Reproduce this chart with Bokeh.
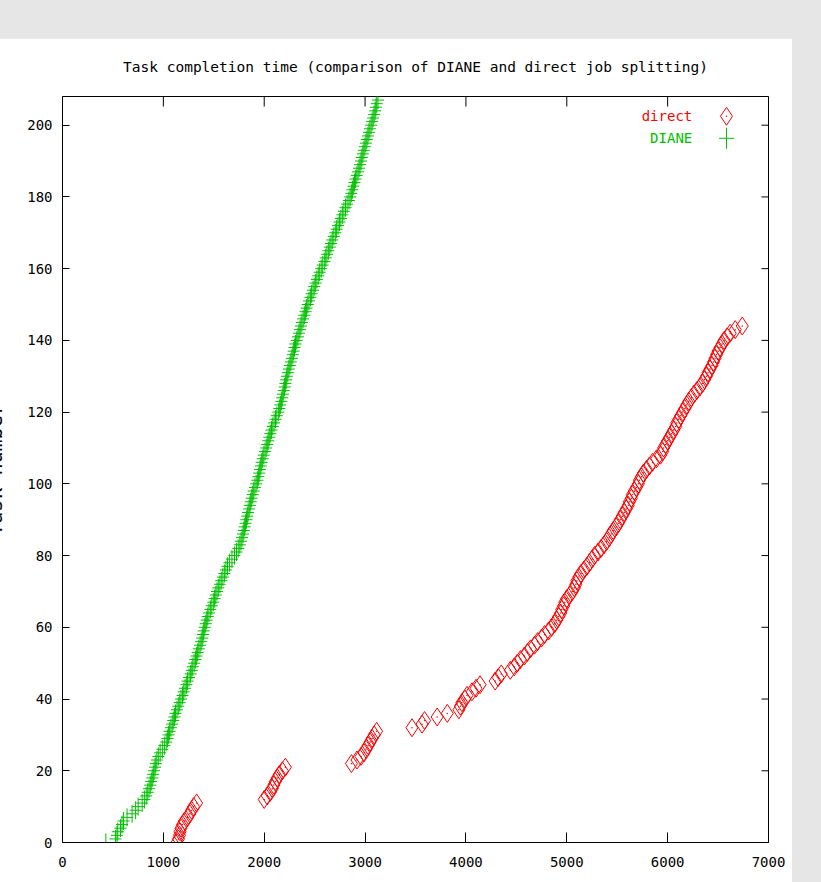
import math
from bokeh.plotting import figure
from bokeh.models import FixedTicker, Label, Range1d, Spacer
from bokeh.layouts import column
from bokeh.embed import file_html
from bokeh.resources import INLINE

# ---------------- data ----------------
title_text = "Task completion time (comparison of DIANE and direct job splitting)"
y_label = "Task number"
series_names = ["direct", "DIANE"]
x_ticks = [0, 1000, 2000, 3000, 4000, 5000, 6000, 7000]
y_ticks = [0, 20, 40, 60, 80, 100, 120, 140, 160, 180, 200]
x_limits = [0, 7000]
y_limits = [0, 208]

# DIANE: completion time (s) of task number 0, 1, 2, ...
diane_time = [
    430, 525, 540, 548, 575, 590, 605, 640, 690, 725,
    750, 790, 812, 830, 845, 858, 870, 880, 890, 900,
    908, 918, 926, 936, 950, 968, 990, 1010, 1028, 1040,
    1052, 1062, 1075, 1088, 1098, 1110, 1120, 1135, 1148, 1162,
    1175, 1190, 1202, 1215, 1228, 1240, 1255, 1270, 1282, 1292,
    1305, 1318, 1330, 1340, 1352, 1364, 1375, 1385, 1393, 1400,
    1410, 1420, 1430, 1440, 1452, 1466, 1480, 1495, 1508, 1520,
    1532, 1545, 1560, 1574, 1590, 1605, 1620, 1636, 1655, 1680,
    1705, 1725, 1742, 1758, 1770, 1780, 1790, 1798, 1806, 1815,
    1824, 1832, 1840, 1850, 1858, 1866, 1876, 1886, 1896, 1908,
    1920, 1932, 1942, 1950, 1958, 1966, 1975, 1985, 1996, 2008,
    2020, 2030, 2040, 2050, 2060, 2072, 2085, 2098, 2112, 2125,
    2140, 2150, 2160, 2170, 2178, 2186, 2194, 2202, 2210, 2218,
    2225, 2234, 2244, 2254, 2264, 2274, 2284, 2292, 2300, 2310,
    2322, 2334, 2344, 2354, 2364, 2374, 2386, 2398, 2410, 2420,
    2432, 2444, 2458, 2470, 2484, 2496, 2510, 2522, 2536, 2550,
    2565, 2580, 2596, 2610, 2622, 2636, 2650, 2662, 2675, 2690,
    2705, 2718, 2732, 2746, 2760, 2775, 2790, 2806, 2822, 2840,
    2852, 2864, 2874, 2884, 2895, 2906, 2918, 2930, 2940, 2950,
    2960, 2968, 2978, 2988, 2998, 3008, 3018, 3028, 3038, 3048,
    3060, 3070, 3080, 3090, 3100, 3108, 3116, 3128,
]
diane_task = list(range(len(diane_time)))

# direct job splitting: completion time (s) of task number 0, 1, 2, ...
direct_time = [
    1135, 1150, 1160, 1165, 1175, 1190, 1210, 1240, 1262, 1280, 1300, 1330,
    2000, 2030, 2060, 2080, 2095, 2110, 2130, 2150, 2180, 2210,
    2865, 2920, 2960, 2990, 3010, 3030, 3050, 3070, 3090, 3115,
    3465, 3565, 3590, 3715, 3815, 3930, 3945, 3960, 3990, 4010, 4060, 4100, 4140,
    4290, 4320, 4350, 4440, 4480, 4510, 4540, 4580, 4610, 4640, 4680, 4710, 4750, 4780, 4820,
    4850, 4880, 4900, 4920, 4940, 4950, 4970, 4980, 5000, 5030,
    5055, 5075, 5090, 5100, 5120, 5140, 5170, 5200, 5225, 5250,
    5275, 5310, 5340, 5370, 5395, 5420, 5440, 5460, 5490, 5510,
    5530, 5550, 5570, 5590, 5610, 5620, 5640, 5650, 5670, 5690,
    5710, 5720, 5740, 5760, 5790, 5820, 5850, 5890, 5930, 5950,
    5960, 5980, 6000, 6020, 6040, 6060, 6080, 6090, 6110, 6130,
    6150, 6170, 6190, 6210, 6235,
    6260, 6290, 6320, 6345, 6365, 6385, 6400, 6420, 6440, 6455,
    6470, 6485, 6500, 6520, 6540, 6560, 6590, 6620, 6670, 6740,
]
direct_task = list(range(len(direct_time)))

# ---------------- style ----------------
FONT = "DejaVu Sans Mono"
GREEN = "#00c000"
RED = "#ff0000"
BG = "#e6e6e6"

SHIFT = 29                            # figure starts left of the window edge
FRAME_W, FRAME_H = 706, 746           # plot frame size in pixels
X_TICK_PX, Y_TICK_PX = 10, 7          # inward tick lengths in pixels

p = figure(width=792 + SHIFT, height=844,
           x_range=Range1d(*x_limits), y_range=Range1d(*y_limits),
           output_backend="svg", toolbar_location=None,
           min_border_left=62 + SHIFT, min_border_right=24, min_border_top=58,
           min_border_bottom=40,
           border_fill_color="white", background_fill_color="white",
           outline_line_color="black", outline_line_width=1,
           styles={"margin-left": f"-{SHIFT}px"})
p.grid.visible = False

p.title.text = title_text
p.title.align = "center"
p.title.vertical_align = "top"
p.title.standoff = 40
p.title.text_font = FONT
p.title.text_font_size = "14.5px"
p.title.text_font_style = "normal"
p.title.text_color = "black"

def style_axis(ax, ticks, tick_len, standoff):
    ax.ticker = FixedTicker(ticks=ticks)
    ax.major_tick_in = tick_len
    ax.major_tick_out = 0
    ax.minor_tick_in = 0
    ax.minor_tick_out = 0
    ax.axis_line_color = "black"
    ax.axis_line_width = 1
    ax.major_tick_line_color = "black"
    ax.major_tick_line_width = 1
    ax.major_label_text_font = FONT
    ax.major_label_text_font_size = "14px"
    ax.major_label_text_color = "black"
    ax.major_label_standoff = standoff

style_axis(p.xaxis[0], x_ticks, X_TICK_PX, 14)
style_axis(p.yaxis[0], y_ticks, Y_TICK_PX, 10)
# y axis label: mostly cut off by the window edge, as in the original
p.yaxis[0].axis_label = y_label
p.yaxis[0].axis_label_text_font = FONT
p.yaxis[0].axis_label_text_font_size = "20px"
p.yaxis[0].axis_label_text_font_style = "normal"
p.yaxis[0].axis_label_text_color = "black"
p.yaxis[0].axis_label_standoff = 17

# mirrored inward ticks on the top and right frame edges (gnuplot style)
x_span = x_limits[1] - x_limits[0]
y_span = y_limits[1] - y_limits[0]
top_y1 = [y_limits[1] - X_TICK_PX * y_span / FRAME_H for _ in x_ticks]
p.segment(x0=x_ticks, y0=[y_limits[1]] * len(x_ticks), x1=x_ticks, y1=top_y1,
          line_color="black", line_width=1)
right_x1 = [x_limits[1] - Y_TICK_PX * x_span / FRAME_W for _ in y_ticks]
p.segment(x0=[x_limits[1]] * len(y_ticks), y0=y_ticks, x1=right_x1, y1=y_ticks,
          line_color="black", line_width=1)

# direct: diamonds with a small centre dot
p.scatter(x=direct_time, y=direct_task, marker="diamond", size=18,
          fill_color=None, line_color=RED, line_width=1)
p.scatter(x=direct_time, y=direct_task, marker="dot", size=6,
          line_color=RED, fill_color=RED)
# DIANE: plus signs (narrower than tall, as in the original)
p.scatter(x=diane_time, y=diane_task, marker="dash", size=12,
          line_color=GREEN, line_width=1)
p.scatter(x=diane_time, y=diane_task, marker="dash", size=18, angle=math.pi / 2,
          line_color=GREEN, line_width=1)

# key (gnuplot style: text, then symbol), placed relative to the top-right corner
key_sym_x = x_limits[1] - 0.0595 * x_span
key_txt_x = x_limits[1] - 0.108 * x_span
key_y = [y_limits[1] - 0.0265 * y_span, y_limits[1] - 0.056 * y_span]
p.scatter(x=[key_sym_x], y=[key_y[0]], marker="diamond", size=18,
          fill_color=None, line_color=RED, line_width=1)
p.scatter(x=[key_sym_x], y=[key_y[0]], marker="dot", size=6,
          line_color=RED, fill_color=RED)
p.scatter(x=[key_sym_x], y=[key_y[1]], marker="dash", size=15,
          line_color=GREEN, line_width=1)
p.scatter(x=[key_sym_x], y=[key_y[1]], marker="dash", size=21, angle=math.pi / 2,
          line_color=GREEN, line_width=1)
for name, ky, col in zip(series_names, key_y, [RED, GREEN]):
    p.add_layout(Label(x=key_txt_x, y=ky, text=name, text_align="right",
                       text_baseline="middle", text_font=FONT,
                       text_font_size="14px", text_color=col))

layout = column(Spacer(width=821, height=38), p,
                styles={"background-color": BG, "overflow": "hidden"},
                width=821, height=882)

open("out.html", "w").write(file_html(layout, INLINE))
